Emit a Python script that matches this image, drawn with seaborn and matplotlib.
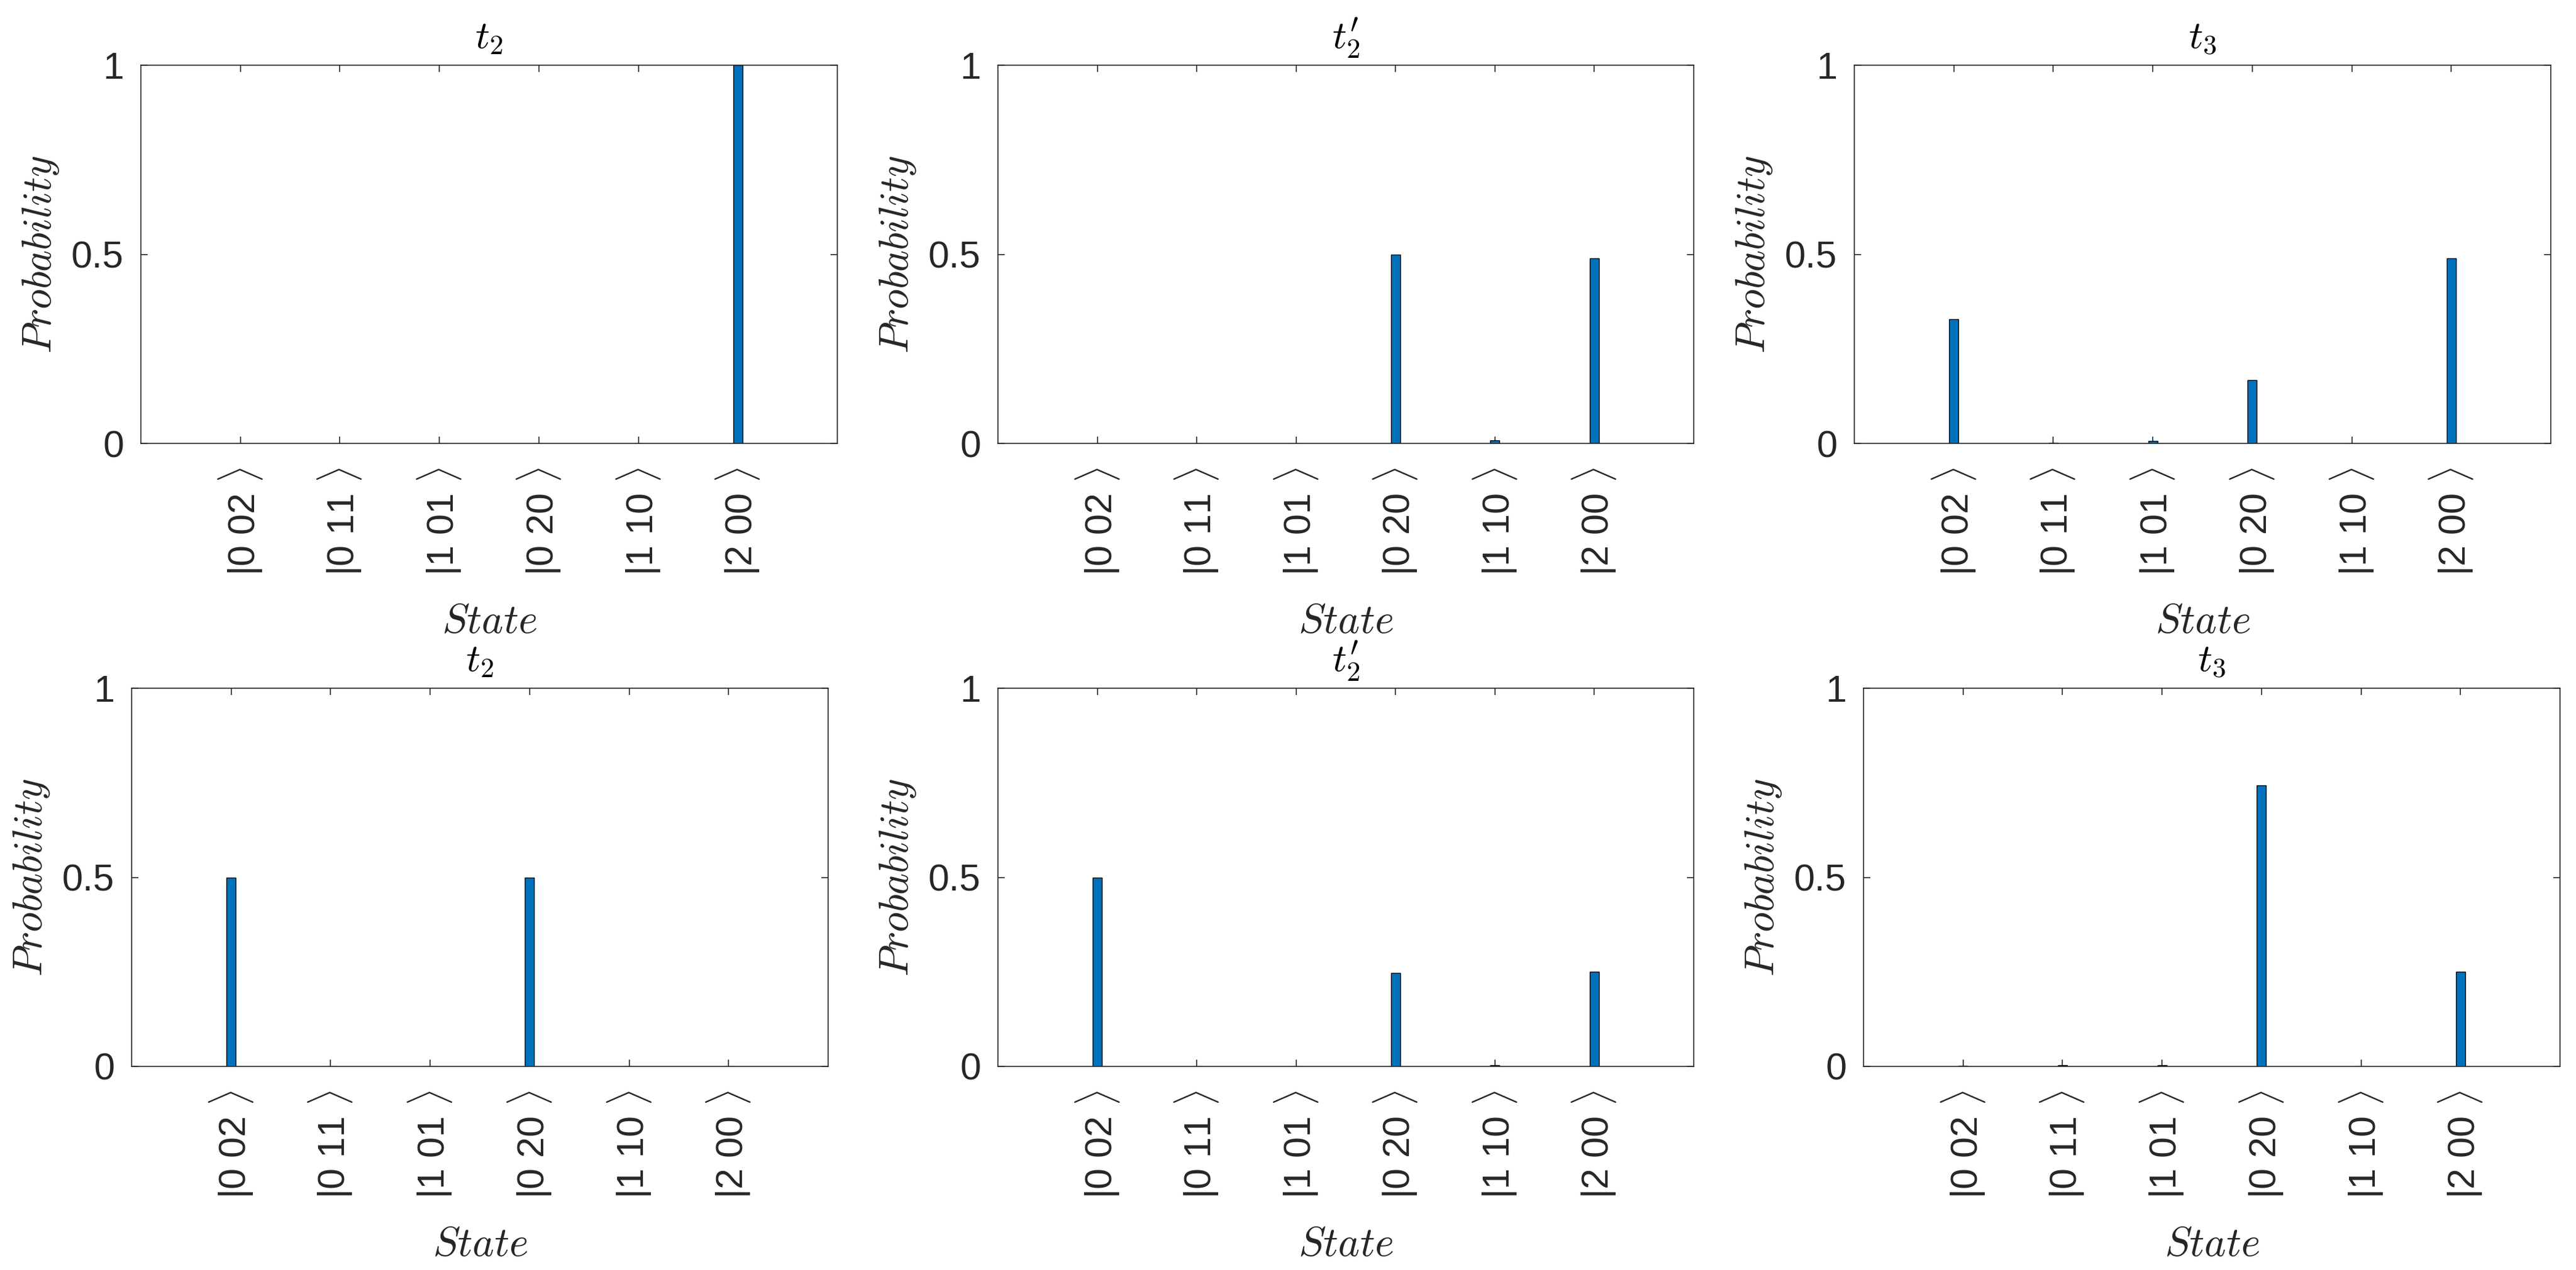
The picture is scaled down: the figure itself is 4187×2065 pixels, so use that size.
import numpy as np
import pandas as pd
import seaborn as sns
from matplotlib import pyplot as plt

# basis states and panel titles
states = ['|0 02 $\\rangle$', '|0 11 $\\rangle$', '|1 01 $\\rangle$',
          '|0 20 $\\rangle$', '|1 10 $\\rangle$', '|2 00 $\\rangle$']
titles = ['$t_2$', '$t^{\\prime}_2$', '$t_3$', '$t_2$', '$t^{\\prime}_2$', '$t_3$']

# probabilities (top row, then bottom row)
prob_top_t2 = [0.0, 0.0, 0.0, 0.0, 0.0, 1.0]
prob_top_t2p = [0.0, 0.0, 0.0, 0.5, 0.008, 0.49]
prob_top_t3 = [0.329, 0.002, 0.007, 0.167, 0.0, 0.49]
prob_bot_t2 = [0.5, 0.0, 0.0, 0.5, 0.0, 0.0]
prob_bot_t2p = [0.5, 0.0, 0.0, 0.247, 0.004, 0.25]
prob_bot_t3 = [0.001, 0.004, 0.004, 0.743, 0.0, 0.25]

panels = [prob_top_t2, prob_top_t2p, prob_top_t3,
          prob_bot_t2, prob_bot_t2p, prob_bot_t3]

sns.set_style('ticks')
plt.rcParams['font.family'] = ['Liberation Sans', 'DejaVu Sans']
plt.rcParams['mathtext.fontset'] = 'cm'
plt.rcParams['axes.edgecolor'] = '#262626'
plt.rcParams['xtick.color'] = '#262626'
plt.rcParams['ytick.color'] = '#262626'
plt.rcParams['text.color'] = '#262626'

W, H = 4187, 2065
fig = plt.figure(figsize=(W / 200, H / 200), dpi=200)

# axes boxes in pixels: left, right, bottom
boxes = [(229, 1361, 721), (1622, 2753, 721), (3014, 4146, 721),
         (214, 1346, 1734), (1622, 2753, 1734), (3029, 4161, 1734)]
ax_h = 615

for i, vals in enumerate(panels):
    l, r, b = boxes[i]
    ax = fig.add_axes([l / W, 1 - b / H, (r - l) / W, ax_h / H])
    df = pd.DataFrame({'State': states, 'Probability': vals})
    sns.barplot(data=df, x='State', y='Probability', order=states, color='#0072BD',
                saturation=1, width=0.093, edgecolor='black', linewidth=0.5, ax=ax)
    ax.set_xlim(-1, 6)
    ax.set_ylim(0, 1)
    ax.set_yticks([0, 0.5, 1])
    ax.set_yticklabels(['0', '0.5', '1'])
    ax.set_xticks(range(len(states)))
    ax.set_xticklabels(states, rotation=90)
    ax.tick_params(direction='in', length=4, width=0.6, top=True, right=True,
                   labelsize=22)
    ax.tick_params(axis='x', pad=14)
    ax.tick_params(axis='y', pad=10)
    for sp in ax.spines.values():
        sp.set_linewidth(0.6)
        sp.set_visible(True)
    ax.set_xlabel('$State$', fontsize=24, labelpad=16)
    ax.set_ylabel('$Probability$', fontsize=24, labelpad=6)
    ax.set_title(titles[i], fontsize=23, pad=10, color='black')

plt.savefig('out.png', dpi=200)
